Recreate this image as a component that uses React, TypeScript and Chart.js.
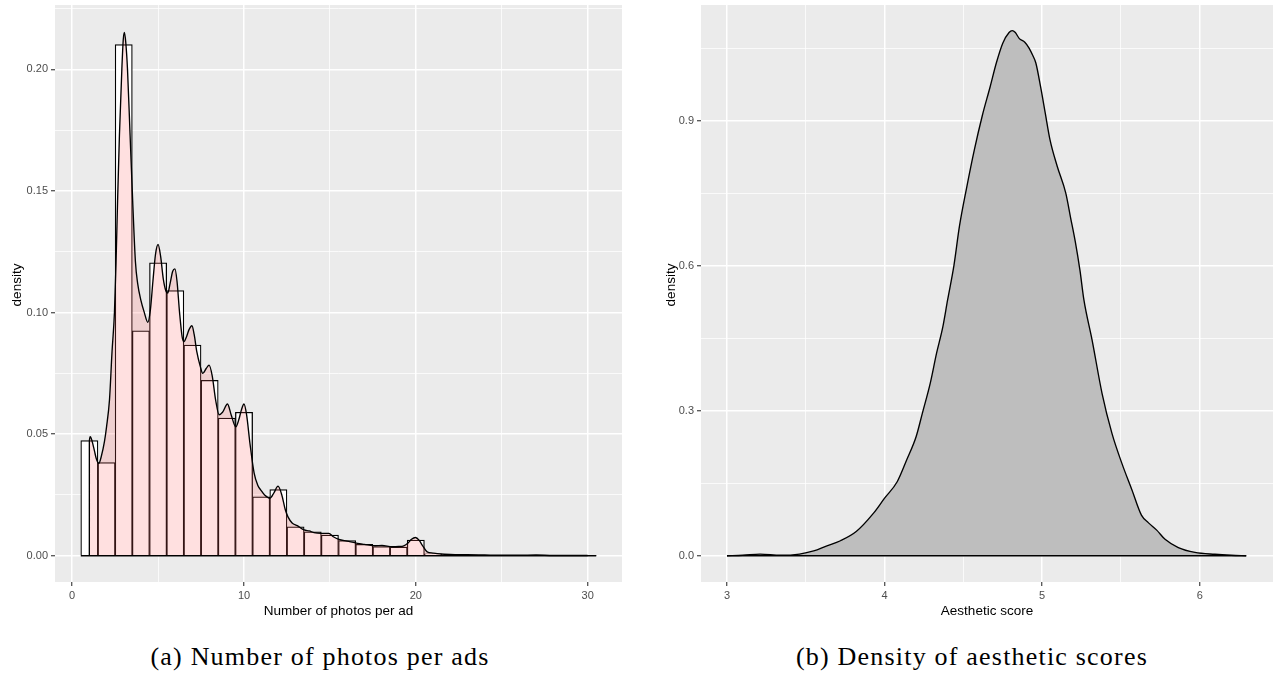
import React, { useEffect, useRef } from "react";
import { Chart, registerables } from "chart.js";

Chart.register(...registerables);

// ---------- data: left panel (number of photos per ad) ----------
const photoBins = [1, 2, 3, 4, 5, 6, 7, 8, 9, 10, 11, 12, 13, 14, 15, 16, 17, 18, 19, 20, 21, 22, 23, 24, 25, 26, 27, 28, 29, 30];
const photoHist = [0.0474, 0.0383, 0.2102, 0.0925, 0.1205, 0.109, 0.0866, 0.0721, 0.0566, 0.059, 0.0242, 0.0272, 0.0119, 0.0098, 0.0085, 0.0062, 0.0047, 0.0038, 0.0036, 0.0064, 0.0008, 0.0004, 0.0003, 0.0002, 0.0002, 0.0002, 0.0002, 0.0001, 0.0001, 0.0001];
const photoKdeX = [0.999, 1.0, 1.05, 1.12, 1.2, 1.3, 1.4, 1.55, 1.7, 1.88, 2.0, 2.17, 2.32, 2.46, 2.55, 2.65, 2.75, 2.89, 2.97, 3.04, 3.12, 3.22, 3.37, 3.52, 3.68, 3.81, 4.0, 4.2, 4.4, 4.55, 4.7, 4.85, 5.0, 5.15, 5.3, 5.45, 5.56, 5.7, 5.85, 5.98, 6.1, 6.25, 6.4, 6.5, 6.65, 6.8, 6.97, 7.1, 7.25, 7.45, 7.6, 7.8, 7.97, 8.15, 8.35, 8.55, 8.75, 9.04, 9.25, 9.52, 9.7, 9.85, 10.0, 10.15, 10.35, 10.59, 10.8, 10.98, 11.2, 11.52, 11.75, 11.98, 12.2, 12.4, 12.56, 12.8, 13.1, 13.5, 13.8, 14.07, 14.5, 14.94, 15.2, 15.52, 16.0, 16.6, 17.0, 17.65, 18.03, 18.62, 19.0, 19.3, 19.53, 19.75, 19.98, 20.2, 20.37, 20.66, 21.0, 21.24, 22.0, 23.0, 24.0, 25.0, 26.0, 27.0, 28.0, 29.0, 30.0];
const photoKdeY = [0.0, 0.047, 0.049, 0.048, 0.046, 0.043, 0.04, 0.038, 0.041, 0.047, 0.053, 0.064, 0.084, 0.1, 0.12, 0.148, 0.173, 0.2, 0.212, 0.2152, 0.211, 0.2, 0.173, 0.146, 0.121, 0.112, 0.105, 0.1, 0.096, 0.101, 0.113, 0.124, 0.128, 0.123, 0.114, 0.109, 0.108, 0.112, 0.117, 0.118, 0.113, 0.1, 0.09, 0.088, 0.09, 0.093, 0.0946, 0.091, 0.084, 0.078, 0.075, 0.077, 0.0784, 0.074, 0.064, 0.058, 0.059, 0.0624, 0.058, 0.053, 0.056, 0.06, 0.0624, 0.058, 0.046, 0.034, 0.029, 0.027, 0.025, 0.0237, 0.026, 0.0286, 0.025, 0.019, 0.016, 0.0135, 0.0124, 0.0106, 0.0102, 0.0095, 0.0092, 0.0092, 0.0078, 0.0067, 0.006, 0.0051, 0.0047, 0.0041, 0.0042, 0.0037, 0.0038, 0.0041, 0.0051, 0.0068, 0.0075, 0.0063, 0.0044, 0.0016, 0.0011, 0.0009, 0.0005, 0.0004, 0.0003, 0.0002, 0.0002, 0.0003, 0.0001, 0.0001, 0.0001];
const photoXMajor = [0, 10, 20, 30];
const photoXLabels = ["0", "10", "20", "30"];
const photoXMinor = [5, 15, 25];
const photoYMajor = [0, 0.05, 0.1, 0.15, 0.2];
const photoYLabels = ["0.00", "0.05", "0.10", "0.15", "0.20"];
const photoYMinor = [0.025, 0.075, 0.125, 0.175, 0.225];

// ---------- data: right panel (aesthetic score density) ----------
const scoreKdeX = [3.0, 3.1, 3.21, 3.34, 3.46, 3.55, 3.63, 3.72, 3.82, 3.93, 4.0, 4.08, 4.14, 4.2, 4.24, 4.29, 4.33, 4.37, 4.4, 4.44, 4.475, 4.52, 4.57, 4.62, 4.67, 4.71, 4.75, 4.79, 4.81, 4.83, 4.854, 4.89, 4.917, 4.94, 4.96, 4.99, 5.02, 5.05, 5.096, 5.15, 5.18, 5.21, 5.24, 5.265, 5.317, 5.38, 5.443, 5.506, 5.57, 5.63, 5.675, 5.727, 5.78, 5.864, 5.97, 6.096, 6.2, 6.295];
const scoreKdeY = [0.0, 0.001, 0.0035, 0.001, 0.0035, 0.01, 0.02, 0.031, 0.05, 0.088, 0.119, 0.153, 0.198, 0.246, 0.295, 0.357, 0.419, 0.474, 0.529, 0.6, 0.681, 0.76, 0.84, 0.91, 0.97, 1.02, 1.06, 1.082, 1.086, 1.082, 1.07, 1.062, 1.05, 1.035, 1.019, 0.97, 0.915, 0.86, 0.805, 0.75, 0.7, 0.65, 0.59, 0.529, 0.446, 0.336, 0.253, 0.191, 0.136, 0.084, 0.068, 0.053, 0.034, 0.017, 0.007, 0.003, 0.001, 0.0];
const scoreXMajor = [3, 4, 5, 6];
const scoreXLabels = ["3", "4", "5", "6"];
const scoreXMinor = [3.5, 4.5, 5.5];
const scoreYMajor = [0, 0.3, 0.6, 0.9];
const scoreYLabels = ["0.0", "0.3", "0.6", "0.9"];
const scoreYMinor = [0.15, 0.45, 0.75, 1.05];

const SANS = "'Liberation Sans', Arial, Helvetica, sans-serif";

const near = (a: number, b: number) => Math.abs(a - b) < 1e-9;

function ggScale(opts: {
  horizontal: boolean;
  min: number;
  max: number;
  major: number[];
  labels: string[];
  minor: number[];
  size: number;
}) {
  const { horizontal, min, max, major, labels, minor, size } = opts;
  const isMajor = (v: number) => major.some((m) => near(m, v));
  return {
    type: "linear",
    min,
    max,
    offset: false,
    afterBuildTicks: (s: any) => {
      s.ticks = [...major, ...minor].sort((a, b) => a - b).map((v) => ({ value: v }));
    },
    afterFit: (s: any) => {
      if (horizontal) {
        s.height = size;
        s.paddingLeft = 0;
        s.paddingRight = 0;
      } else {
        s.width = size;
        s.paddingTop = 0;
        s.paddingBottom = 0;
      }
    },
    ticks: {
      autoSkip: false,
      maxRotation: 0,
      minRotation: 0,
      padding: 3,
      color: "#4D4D4D",
      font: { family: SANS, size: 11 },
      callback: (v: number) => {
        const i = major.findIndex((m) => near(m, v));
        return i >= 0 ? labels[i] : "";
      },
    },
    grid: {
      offset: false,
      color: "#FFFFFF",
      lineWidth: (c: any) => (c.tick && isMajor(c.tick.value) ? 1.5 : 0.75),
      tickColor: (c: any) => (c.tick && isMajor(c.tick.value) ? "#333333" : "rgba(0,0,0,0)"),
      tickLength: 4,
      tickWidth: 1.1,
      drawTicks: true,
    },
    border: { display: false },
  };
}

const ggPlugin = {
  id: "gg",
  beforeDraw(chart: any) {
    const { ctx, chartArea } = chart;
    ctx.save();
    ctx.fillStyle = "#FFFFFF";
    ctx.fillRect(0, 0, chart.width, chart.height);
    ctx.fillStyle = "#EBEBEB";
    ctx.fillRect(chartArea.left, chartArea.top, chartArea.right - chartArea.left, chartArea.bottom - chartArea.top);
    ctx.restore();
  },
  afterDraw(chart: any, _args: any, o: any) {
    const { ctx, chartArea } = chart;
    ctx.save();
    ctx.fillStyle = "#000000";
    ctx.font = `13.5px ${SANS}`;
    ctx.textAlign = "center";
    ctx.textBaseline = "middle";
    ctx.fillText(o.xTitle, (chartArea.left + chartArea.right) / 2, o.xTitleY);
    ctx.translate(o.yTitleX, o.yTitleY);
    ctx.rotate(-Math.PI / 2);
    ctx.fillText(o.yTitle, 0, 0);
    ctx.restore();
  },
};

const lineBase = {
  type: "line",
  borderColor: "#000000",
  borderWidth: 1.35,
  pointRadius: 0,
  cubicInterpolationMode: "monotone",
};

function PhotosChart() {
  const ref = useRef<HTMLCanvasElement | null>(null);
  useEffect(() => {
    if (!ref.current) return;
    const kde = photoKdeX.map((x, i) => ({ x, y: photoKdeY[i] }));
    const base = [
      { x: photoBins[0] - 0.5, y: 0 },
      { x: photoBins[photoBins.length - 1] + 0.5, y: 0 },
    ];
    const chart = new Chart(ref.current, {
      type: "bar",
      data: {
        datasets: [
          { ...lineBase, data: base, fill: false, borderWidth: 1.6, order: -1 } as any,
          { ...lineBase, data: kde, fill: "origin", backgroundColor: "rgba(255,102,102,0.2)", order: 0 } as any,
          {
            type: "bar",
            data: photoBins.map((x, i) => ({ x, y: photoHist[i] })),
            backgroundColor: "#FFFFFF",
            borderColor: "#000000",
            borderWidth: 1.25,
            barPercentage: 1,
            categoryPercentage: 1,
            grouped: false,
            order: 1,
          } as any,
        ],
      },
      options: {
        responsive: false,
        animation: false,
        devicePixelRatio: 1,
        events: [],
        layout: { padding: { left: 0, right: 18, top: 5, bottom: 0 } },
        plugins: {
          legend: { display: false },
          tooltip: { enabled: false },
          gg: { xTitle: "Number of photos per ad", yTitle: "density", xTitleY: 611, yTitleX: 17.5, yTitleY: 285 },
        } as any,
        scales: {
          x: ggScale({ horizontal: true, min: -1, max: 32, major: photoXMajor, labels: photoXLabels, minor: photoXMinor, size: 43 }) as any,
          y: ggScale({ horizontal: false, min: -0.0108, max: 0.2265, major: photoYMajor, labels: photoYLabels, minor: photoYMinor, size: 55 }) as any,
        },
      },
      plugins: [ggPlugin],
    });
    return () => chart.destroy();
  }, []);
  return <canvas ref={ref} width={640} height={625} style={{ position: "absolute", left: 0, top: 0, width: 640, height: 625 }} />;
}

function ScoreChart() {
  const ref = useRef<HTMLCanvasElement | null>(null);
  useEffect(() => {
    if (!ref.current) return;
    const kde = scoreKdeX.map((x, i) => ({ x, y: scoreKdeY[i] }));
    const base = [
      { x: scoreKdeX[0], y: 0 },
      { x: scoreKdeX[scoreKdeX.length - 1], y: 0 },
    ];
    const chart = new Chart(ref.current, {
      type: "line",
      data: {
        datasets: [
          { ...lineBase, data: base, fill: false, order: -1 } as any,
          { ...lineBase, data: kde, fill: "origin", backgroundColor: "#BEBEBE", order: 0 } as any,
        ],
      },
      options: {
        responsive: false,
        animation: false,
        devicePixelRatio: 1,
        events: [],
        layout: { padding: { left: 0, right: 1, top: 5, bottom: 0 } },
        plugins: {
          legend: { display: false },
          tooltip: { enabled: false },
          gg: { xTitle: "Aesthetic score", yTitle: "density", xTitleY: 611, yTitleX: 31, yTitleY: 285 },
        } as any,
        scales: {
          x: ggScale({ horizontal: true, min: 2.835, max: 6.465, major: scoreXMajor, labels: scoreXLabels, minor: scoreXMinor, size: 43 }) as any,
          y: ggScale({ horizontal: false, min: -0.0543, max: 1.139, major: scoreYMajor, labels: scoreYLabels, minor: scoreYMinor, size: 61 }) as any,
        },
      },
      plugins: [ggPlugin],
    });
    return () => chart.destroy();
  }, []);
  return <canvas ref={ref} width={634} height={625} style={{ position: "absolute", left: 640, top: 0, width: 634, height: 625 }} />;
}

const captionStyle: React.CSSProperties = {
  position: "absolute",
  top: 642,
  width: 600,
  textAlign: "center",
  fontFamily: "'Liberation Serif', 'Times New Roman', serif",
  fontSize: 26,
  lineHeight: "30px",
  letterSpacing: "1.2px",
  color: "#000000",
  whiteSpace: "nowrap",
};

export default function App() {
  return (
    <div style={{ position: "absolute", left: 0, top: 0, width: 1274, height: 679, background: "#FFFFFF", overflow: "hidden" }}>
      <PhotosChart />
      <ScoreChart />
      <div style={{ ...captionStyle, left: 320 - 300 }}>(a) Number of photos per ads</div>
      <div style={{ ...captionStyle, left: 972 - 300 }}>(b) Density of aesthetic scores</div>
    </div>
  );
}
